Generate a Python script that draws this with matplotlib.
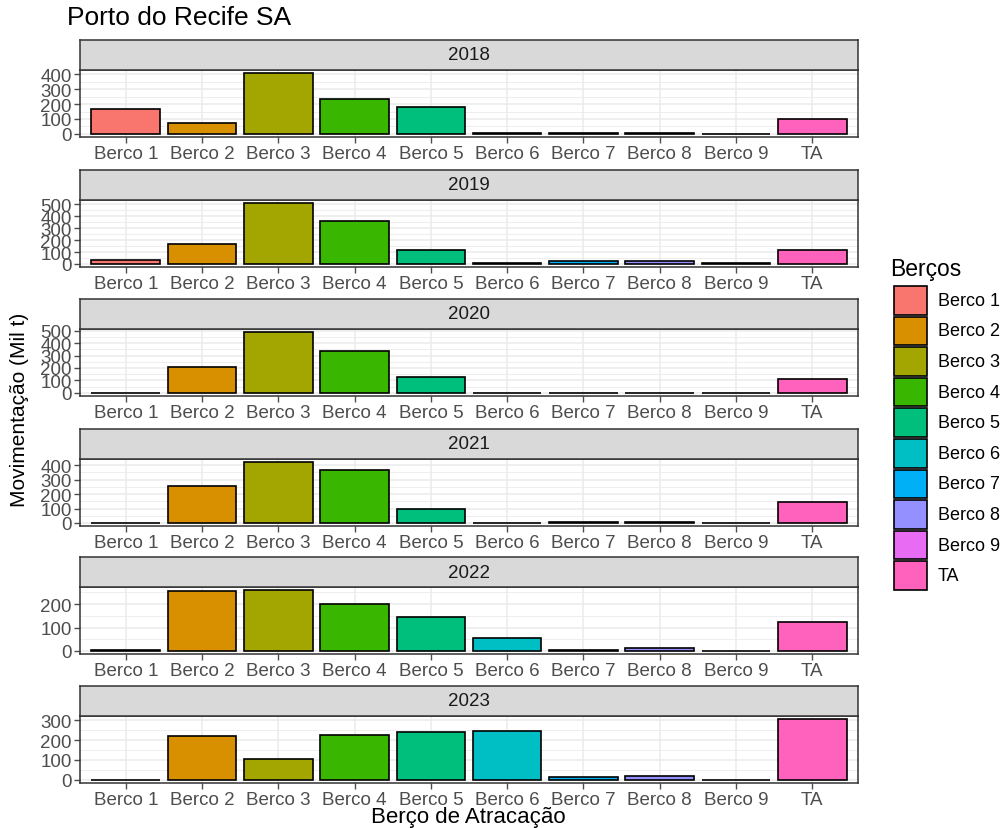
import matplotlib
matplotlib.use('Agg')
import matplotlib.pyplot as plt
from matplotlib.patches import Rectangle
from matplotlib.ticker import MultipleLocator
import numpy as np

plt.rcParams['font.family'] = ['Liberation Sans', 'DejaVu Sans']

bercos = ['Berco 1', 'Berco 2', 'Berco 3', 'Berco 4', 'Berco 5',
          'Berco 6', 'Berco 7', 'Berco 8', 'Berco 9', 'TA']
anos = ['2018', '2019', '2020', '2021', '2022', '2023']

# movimentação em mil t
v2018 = [169, 76, 407, 236, 181, 7, 7, 7, 2, 102]
v2019 = [36, 166, 512, 357, 116, 8, 22, 24, 10, 119]
v2020 = [2, 209, 488, 337, 125, 2, 2, 2, 2, 108]
v2021 = [2, 255, 422, 370, 98, 1, 8, 8, 2, 142]
v2022 = [2, 254, 260, 200, 147, 55, 5, 14, 1, 123]
v2023 = [2, 219, 107, 226, 240, 247, 13, 21, 1, 305]
valores = [v2018, v2019, v2020, v2021, v2022, v2023]
passos = [100, 100, 100, 100, 100, 100]

cores = ['#F8766D', '#D89000', '#A3A500', '#39B600', '#00BF7D',
         '#00BFC4', '#00B0F6', '#9590FF', '#E76BF3', '#FF62BC']

W, H = 1003, 829
fig = plt.figure(figsize=(W / 100, H / 100), dpi=100)

left, right = 80, 858
strip_tops = [41, 171, 300, 430, 558, 687]
strip_h = 30
plot_h = 67
x = np.arange(len(bercos))

for i, ano in enumerate(anos):
    st = strip_tops[i]
    pt = st + strip_h
    ax = fig.add_axes([left / W, 1 - (pt + plot_h) / H, (right - left) / W, plot_h / H])
    sax = fig.add_axes([left / W, 1 - pt / H, (right - left) / W, strip_h / H])
    sax.set_facecolor('#D9D9D9')
    sax.set_xticks([]); sax.set_yticks([])
    for s in sax.spines.values():
        s.set_color('#333333'); s.set_linewidth(1.1)
    sax.text(0.5, 0.5, ano, ha='center', va='center', fontsize=13.5, color='#1A1A1A',
             transform=sax.transAxes)

    vals = valores[i]
    ax.bar(x, vals, width=0.9, color=cores, edgecolor='black', linewidth=1.2, zorder=3)
    vmax = max(vals)
    ax.set_ylim(-0.05 * vmax, vmax * 1.05)
    ax.set_xlim(-0.6, len(bercos) - 0.4)
    ax.yaxis.set_major_locator(MultipleLocator(passos[i]))
    ax.yaxis.set_minor_locator(MultipleLocator(passos[i] / 2))
    ax.grid(which='major', color='#EBEBEB', linewidth=1.1, zorder=0)
    ax.grid(which='minor', axis='y', color='#EBEBEB', linewidth=0.6, zorder=0)
    ax.set_axisbelow(True)
    ax.set_xticks(x)
    ax.set_xticklabels(bercos)
    ax.tick_params(axis='both', which='major', labelsize=13.5, colors='#4D4D4D',
                   length=4, width=1, pad=2)
    ax.tick_params(axis='y', which='minor', length=0)
    ax.tick_params(axis='x', pad=2)
    for s in ax.spines.values():
        s.set_color('#333333'); s.set_linewidth(1.1)

fig.text(67 / W, 1 - 18 / H, 'Porto do Recife SA', fontsize=19, ha='left', va='center',
         color='black')
fig.text(20 / W, 1 - 410 / H, 'Movimentação (Mil t)', fontsize=15, rotation=90,
         ha='center', va='center')
fig.text(468 / W, 1 - 818 / H, 'Berço de Atracação', fontsize=16, ha='center', va='center')

# legenda
fig.text(890 / W, 1 - 270 / H, 'Berços', fontsize=16.5, ha='left', va='center')
key_top = 286
key_h = 30.6
for j, (b, c) in enumerate(zip(bercos, cores)):
    y0 = key_top + j * key_h
    fig.patches.append(Rectangle((894 / W, 1 - (y0 + key_h - 1) / H), 33 / W, (key_h - 2) / H,
                                 transform=fig.transFigure, facecolor=c,
                                 edgecolor='black', linewidth=1.2))
    fig.text(938 / W, 1 - (y0 + key_h / 2) / H, b, fontsize=13, ha='left', va='center')

fig.savefig('out.png', dpi=100)
